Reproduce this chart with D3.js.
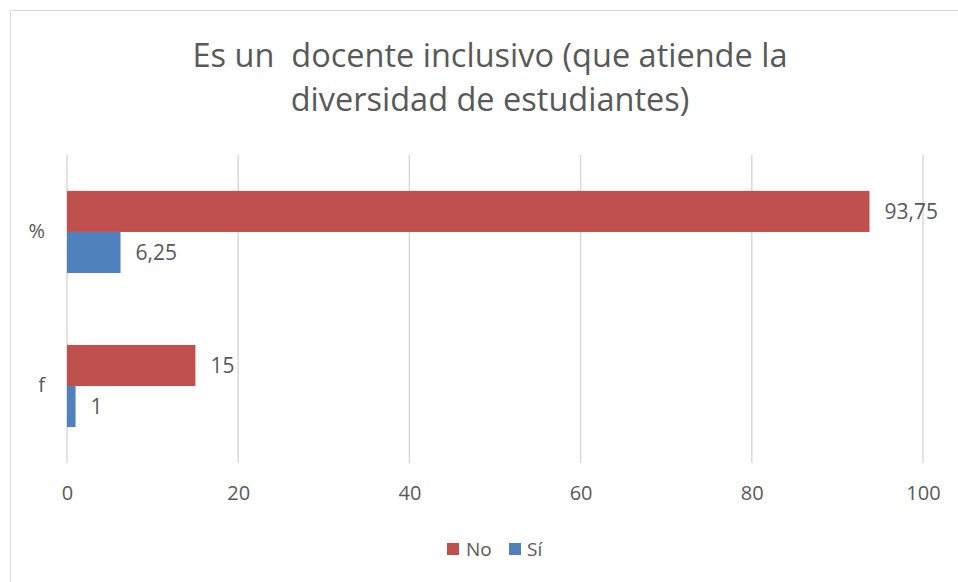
<!DOCTYPE html>
<html>
<head>
<meta charset="utf-8">
<script src="https://cdn.jsdelivr.net/npm/d3@7"></script>
<style>
  body { margin: 0; background: #fff; }
  text { font-family: "Open Sans", sans-serif; fill: #595959; }
</style>
</head>
<body>
<div id="chart"></div>
<script>
// data
const categories = ["%", "f"];
const seriesNames = ["No", "Sí"];
const noValues = [93.75, 15];
const siValues = [6.25, 1];
const labelNo = ["93,75", "15"];
const labelSi = ["6,25", "1"];
const xTicks = [0, 20, 40, 60, 80, 100];
const colors = { "No": "#c0504d", "Sí": "#4f81bd" };

const W = 958, H = 582;
const margin = { top: 155, left: 67, right: 35, bottom: 119 };
const width = 923 - margin.left, height = 463 - margin.top;

const svg = d3.select("#chart").append("svg")
  .attr("width", W).attr("height", H);

// chart border
svg.append("rect")
  .attr("x", 10.5).attr("y", 10.5)
  .attr("width", W).attr("height", H)
  .attr("fill", "white").attr("stroke", "#d9d9d9");

// title
const title = svg.append("text")
  .attr("text-anchor", "middle")
  .style("font-size", "32.5px")
  .style("white-space", "pre");
title.append("tspan").attr("x", 490).attr("y", 67).text("Es un  docente inclusivo (que atiende la");
title.append("tspan").attr("x", 490).attr("y", 111).text("diversidad de estudiantes)");

const g = svg.append("g").attr("transform", `translate(${margin.left},${margin.top})`);

const x = d3.scaleLinear().domain([0, 100]).range([0, width]);
const y = d3.scaleBand().domain(categories).range([0, height]).paddingInner(0.467).paddingOuter(0.233);
const ySub = d3.scaleBand().domain(seriesNames).range([0, y.bandwidth()]);

// gridlines
g.selectAll(".grid")
  .data(xTicks)
  .join("line")
  .attr("x1", d => x(d)).attr("x2", d => x(d))
  .attr("y1", 0).attr("y2", height)
  .attr("stroke", "#d9d9d9").attr("stroke-width", 1.5);

// x axis labels
const xAxis = g.append("g")
  .attr("transform", `translate(0,${height})`)
  .call(d3.axisBottom(x).tickValues(xTicks).tickSize(0).tickPadding(23));
xAxis.select(".domain").remove();
xAxis.selectAll("text").style("font-size", "20px").style("font-family", "Open Sans").attr("fill", "#595959");

// y axis labels
const yAxis = g.append("g")
  .call(d3.axisLeft(y).tickSize(0).tickPadding(22));
yAxis.select(".domain").remove();
yAxis.selectAll("text").style("font-size", "20px").style("font-family", "Open Sans").attr("fill", "#595959");

const rows = categories.map((c, i) => ({
  cat: c,
  bars: [
    { s: "No", v: noValues[i], label: labelNo[i] },
    { s: "Sí", v: siValues[i], label: labelSi[i] }
  ]
}));

const groups = g.selectAll(".cat")
  .data(rows)
  .join("g")
  .attr("transform", d => `translate(0,${y(d.cat)})`);

groups.selectAll("rect")
  .data(d => d.bars)
  .join("rect")
  .attr("x", x(0))
  .attr("y", d => ySub(d.s))
  .attr("width", d => x(d.v) - x(0))
  .attr("height", ySub.bandwidth())
  .attr("fill", d => colors[d.s]);

groups.selectAll(".lbl")
  .data(d => d.bars)
  .join("text")
  .attr("class", "lbl")
  .attr("x", d => x(d.v) + 15)
  .attr("y", d => ySub(d.s) + ySub.bandwidth() / 2)
  .attr("dy", "0.35em")
  .style("font-size", "21px")
  .text(d => d.label);

// legend
const legend = svg.append("g").attr("transform", "translate(447,543)");
const items = [{ s: "No", x: 0, tx: 19 }, { s: "Sí", x: 62, tx: 80 }];
legend.selectAll("rect")
  .data(items)
  .join("rect")
  .attr("x", d => d.x).attr("y", 0)
  .attr("width", 12).attr("height", 12)
  .attr("fill", d => colors[d.s]);
legend.selectAll("text")
  .data(items)
  .join("text")
  .attr("x", d => d.tx).attr("y", 6)
  .attr("dy", "0.35em")
  .style("font-size", "19px")
  .text(d => d.s);
</script>
</body>
</html>
